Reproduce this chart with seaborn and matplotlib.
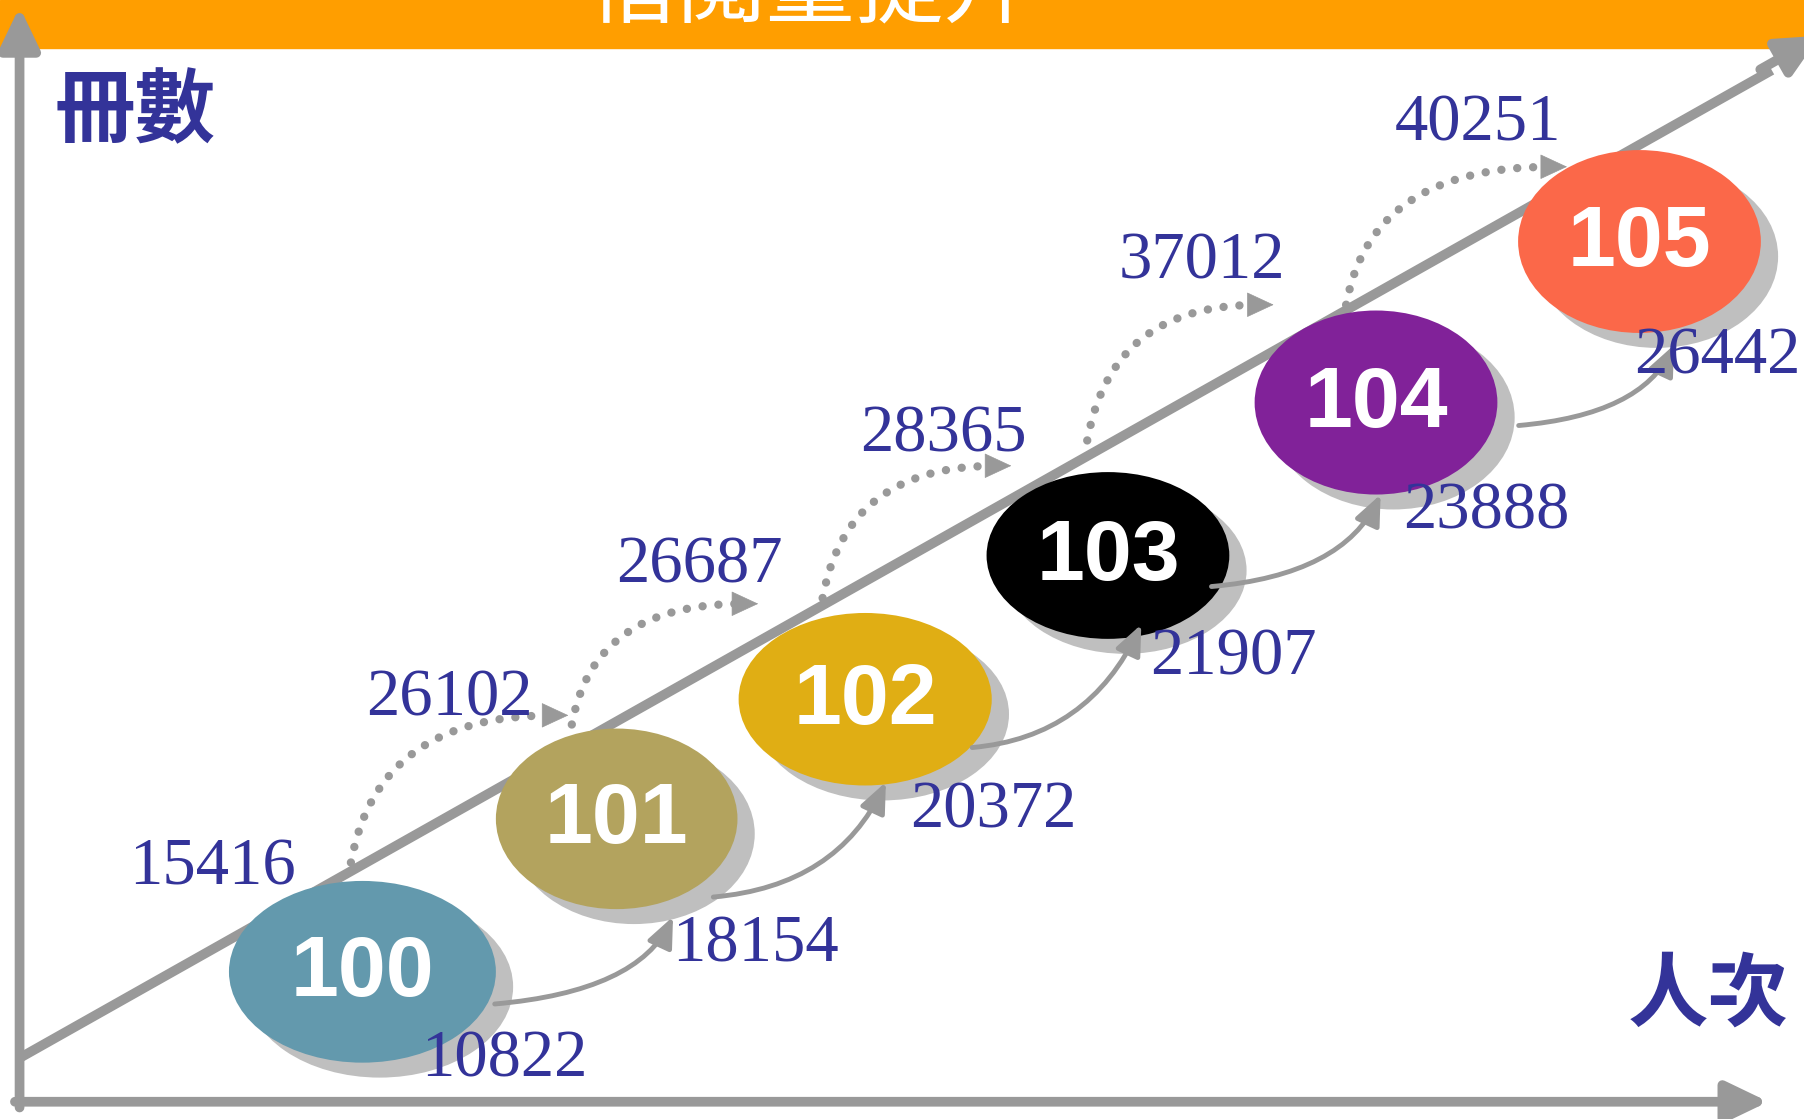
import matplotlib
matplotlib.use("Agg")
import matplotlib.pyplot as plt
from matplotlib.patches import Ellipse, Rectangle
import seaborn as sns

# Data -------------------------------------------------------------------------

years = ["100", "101", "102", "103", "104", "105"]
borrow_volumes = [15416, 26102, 26687, 28365, 37012, 40251]   # 冊數
borrow_people = [10822, 18154, 20372, 21907, 23888, 26442]    # 人次
year_colors = ["#6399AD", "#B3A35E", "#E0AE14", "#000000", "#812299", "#FB6849"]

title = "借閱量提升"
y_label = "冊數"
x_label = "人次"

# Layout (drawing units = reference pixels at 1568 x 973) ------------------------

W, H = 1568, 973
centers = [(315, 845), (536, 712), (752, 608), (963, 483), (1196, 350), (1425, 210)]
sizes = [(232, 158), (210, 157), (220, 150), (211, 145), (211, 160), (211, 159)]
vol_pos = [(185, 755), (391, 608), (608, 492), (820, 378), (1045, 228), (1285, 108)]
ppl_pos = [(438, 922), (657, 822), (863, 705), (1072, 572), (1292, 445), (1493, 310)]
solid_arrows = [((430, 873), (585, 797)), ((620, 780), (770, 680)),
                ((845, 650), (992, 543)), ((1053, 510), (1200, 430)),
                ((1320, 370), (1455, 300))]
dotted_arrows = [((305, 750), (480, 622)), ((497, 630), (645, 525)),
                 ((715, 520), (865, 405)), ((945, 383), (1093, 265)),
                 ((1170, 265), (1348, 145))]

GRAY = "#999999"
SHADOW = "#BFBFBF"
BLUE = "#333399"

sns.set_theme(style = "white")
plt.rcParams["font.family"] = ["Noto Sans CJK TC", "DejaVu Sans"]

fig = plt.figure(figsize = (18.04, 11.19), dpi = 100)
ax = fig.add_axes([0, 0, 1, 1])
ax.set_xlim(0, W)
ax.set_ylim(H, 0)
ax.axis("off")

# Banner -----------------------------------------------------------------------

ax.add_patch(Rectangle((0, 0), W, 42, color = "#FF9E00", zorder = 1))
ax.text(705, -8, title, color = "white", fontsize = 64, ha = "center", va = "center",
        zorder = 2, clip_on = True)

# Axes arrows ------------------------------------------------------------------

axis_style = dict(arrowstyle = "-|>,head_length=1.25,head_width=0.6", color = GRAY,
                  lw = 7, mutation_scale = 20, shrinkA = 0, shrinkB = 0)
ax.annotate("", xy = (17, 6), xytext = (17, 963), arrowprops = axis_style, zorder = 3)
ax.annotate("", xy = (1537, 958), xytext = (13, 958), arrowprops = axis_style, zorder = 3)

# Diagonal trend line
diag_x = [17, 1540]
diag_y = [920, 920 - 0.564 * (1540 - 17)]
sns.lineplot(x = diag_x, y = diag_y, color = GRAY, lw = 7, ax = ax, zorder = 3,
             solid_capstyle = "butt")
ax.annotate("", xy = (1582, 31), xytext = (1530, 60.4), annotation_clip = False,
            arrowprops = axis_style, zorder = 3)

# Ellipses ---------------------------------------------------------------------

for (cx, cy), (w, h), col, yr in zip(centers, sizes, year_colors, years):
    ax.add_patch(Ellipse((cx + 15, cy + 13), w, h, color = SHADOW, zorder = 4, lw = 0))
    ax.add_patch(Ellipse((cx, cy), w, h, color = col, zorder = 5, lw = 0))
    ax.text(cx, cy + 2, yr, color = "white", fontsize = 62, fontweight = "bold",
            family = "Liberation Sans", ha = "center", va = "center", zorder = 8)

# Connecting arrows ------------------------------------------------------------

for start, end in solid_arrows:
    ax.annotate("", xy = end, xytext = start, zorder = 6,
                arrowprops = dict(arrowstyle = "-|>,head_length=1.4,head_width=0.6",
                                  color = GRAY, lw = 3.5, mutation_scale = 13,
                                  shrinkA = 0, shrinkB = 0,
                                  connectionstyle = "angle3,angleA=5,angleB=65"))

for start, end in dotted_arrows:
    ax.annotate("", xy = end, xytext = start, zorder = 6,
                arrowprops = dict(arrowstyle = "-", color = GRAY, lw = 6,
                                  linestyle = (0, (0.01, 1.9)), capstyle = "round",
                                  shrinkA = 0, shrinkB = 0,
                                  connectionstyle = "angle3,angleA=80,angleB=0"))
    ax.annotate("", xy = (end[0] + 14, end[1]), xytext = (end[0] - 2, end[1]), zorder = 6,
                arrowprops = dict(arrowstyle = "-|>,head_length=1.4,head_width=0.65",
                                  color = GRAY, lw = 0.5, mutation_scale = 13,
                                  shrinkA = 0, shrinkB = 0))

# Value labels -----------------------------------------------------------------

for (x, y), v in zip(vol_pos, borrow_volumes):
    ax.text(x, y, str(v), color = BLUE, fontsize = 48, family = "Liberation Serif",
            ha = "center", va = "center", zorder = 9)
for (x, y), v in zip(ppl_pos, borrow_people):
    ax.text(x, y, str(v), color = BLUE, fontsize = 48, family = "Liberation Serif",
            ha = "center", va = "center", zorder = 9)

ax.text(117, 98, y_label, color = BLUE, fontsize = 58, fontweight = "bold",
        ha = "center", va = "center", zorder = 9)
ax.text(1485, 866, x_label, color = BLUE, fontsize = 58, fontweight = "bold",
        ha = "center", va = "center", zorder = 9)

fig.savefig("out.png", dpi = 100)
